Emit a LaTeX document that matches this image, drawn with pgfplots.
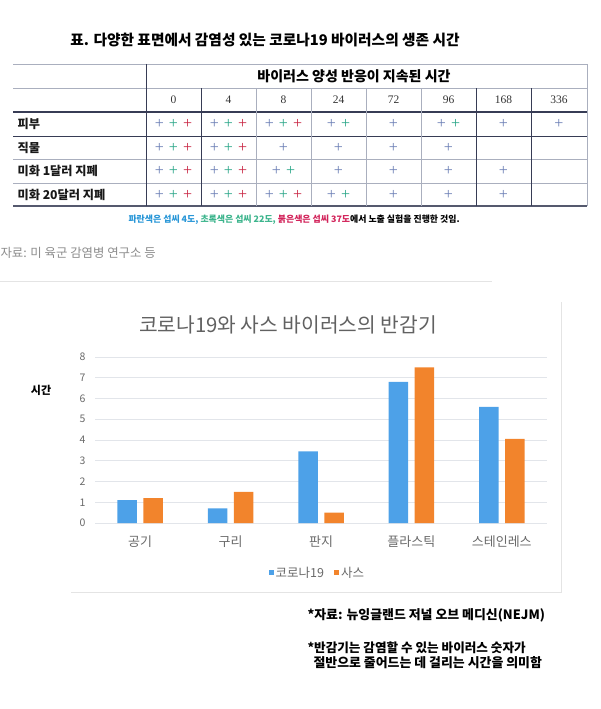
\documentclass[border=0pt]{standalone}
\usepackage{fontspec}
\setmainfont{Noto Sans CJK KR}
\newfontfamily\serif{Liberation Serif}
\usepackage{pgfplots}
\pgfplotsset{compat=1.18}

\definecolor{cblue}{RGB}{77,161,232}
\definecolor{corange}{RGB}{242,132,44}
\definecolor{pblue}{RGB}{105,125,180}
\definecolor{pgreen}{RGB}{40,165,135}
\definecolor{pred}{RGB}{200,35,65}
\definecolor{fblue}{RGB}{40,150,215}
\definecolor{fgreen}{RGB}{60,180,140}
\definecolor{fred}{RGB}{210,35,90}
\definecolor{gridc}{RGB}{226,229,234}
\definecolor{tickc}{RGB}{105,105,105}
\definecolor{tline}{RGB}{55,60,85}
\definecolor{tgray}{RGB}{170,175,190}
\definecolor{boxc}{RGB}{228,228,228}

\newcommand{\pB}{\textcolor{pblue}{+}}
\newcommand{\pG}{\textcolor{pgreen}{+}}
\newcommand{\pR}{\textcolor{pred}{+}}
\newcommand{\s}{\hspace{5pt}}
\newcommand{\fs}[1]{\fontsize{#1}{#1}\selectfont}

\begin{document}
\begin{tikzpicture}
\path[use as bounding box] (0pt,0pt) rectangle (600pt,-709pt);

\begin{scope}[x=1pt,y=-1pt]
% table
\node[font=\bfseries\fs{14.7}] at (265,40) {표. 다양한 표면에서 감염성 있는 코로나19 바이러스의 생존 시간};
\draw[tgray, line width=0.8pt] (13,64) -- (587,64);
\draw[tgray, line width=0.6pt] (13,88) -- (587,88);
\draw[tline, line width=1.1pt] (13,112) -- (587,112);
\draw[tline, line width=0.9pt] (13,136) -- (587,136);
\draw[tgray, line width=0.6pt] (13,159) -- (587,159);
\draw[tgray, line width=0.6pt] (13,183) -- (587,183);
\draw[tline!85, line width=1.1pt] (13,206) -- (587,206);
\draw[tline, line width=0.9pt] (146,64) -- (146,206);
\foreach \x in {201,476,531} \draw[tline, line width=0.8pt] (\x,88) -- (\x,206);
\foreach \x in {256,311,366,421} \draw[tgray, line width=0.7pt] (\x,88) -- (\x,206);
\draw[tgray, line width=0.7pt] (587,64) -- (587,206);

\node[font=\bfseries\fs{14}] at (354,76) {바이러스 양성 반응이 지속된 시간};
\foreach \x/\t in {173.5/0,228.5/4,283.5/8,338.5/24,393.5/72,448.5/96,503.5/168,559/336}
  \node[font=\serif\fs{11.5}, text=black!80] at (\x,100) {\t};

\foreach \y/\t in {124/피부,148/직물,171/미화 1달러 지폐,194.5/미화 20달러 지폐}
  \node[anchor=west, font=\bfseries\fs{12.2}, text=black!90] at (14,\y) {\t};

\begin{scope}[every node/.style={font=\serif\fs{16}}]
\foreach \x/\c in {173.5/{\pB\s\pG\s\pR},228.5/{\pB\s\pG\s\pR},283.5/{\pB\s\pG\s\pR},
  338.5/{\pB\s\pG},393.5/{\pB},448.5/{\pB\s\pG},503.5/{\pB},559/{\pB}}
  \node at (\x,124) {\c};
\foreach \x/\c in {173.5/{\pB\s\pG\s\pR},228.5/{\pB\s\pG\s\pR},283.5/{\pB},
  338.5/{\pB},393.5/{\pB},448.5/{\pB}}
  \node at (\x,147.5) {\c};
\foreach \x/\c in {173.5/{\pB\s\pG\s\pR},228.5/{\pB\s\pG\s\pR},283.5/{\pB\s\pG},
  338.5/{\pB},393.5/{\pB},448.5/{\pB},503.5/{\pB}}
  \node at (\x,171) {\c};
\foreach \x/\c in {173.5/{\pB\s\pG\s\pR},228.5/{\pB\s\pG\s\pR},283.5/{\pB\s\pG\s\pR},
  338.5/{\pB\s\pG},393.5/{\pB},448.5/{\pB},503.5/{\pB}}
  \node at (\x,194.5) {\c};
\end{scope}

\node[anchor=west, font=\bfseries\fs{8.9}] at (125,220)
  {\textcolor{fblue}{파란색은 섭씨 4도,} \textcolor{fgreen}{초록색은 섭씨 22도,} \textcolor{fred}{붉은색은 섭씨 37도}에서 노출 실험을 진행한 것임.};
\node[anchor=west, text=black!45, font=\fs{12.4}] at (-3,253) {자료: 미 육군 감염병 연구소 등};

% chart frame
\draw[boxc, line width=0.7pt] (0,281) -- (492,281);
\draw[boxc, line width=0.7pt] (561,302) -- (561,592) -- (71,592);
\node[text=black!62, font=\fs{20.3}] at (288,325) {코로나19와 사스 바이러스의 반감기};
\node[font=\bfseries\fs{11}] at (41,390) {시간};

% notes
\node[anchor=west, font=\bfseries\fs{12.9}] at (304,615) {*자료: 뉴잉글랜드 저널 오브 메디신(NEJM)};
\node[anchor=west, font=\bfseries\fs{12.6}] at (304,648) {*반감기는 감염할 수 있는 바이러스 숫자가};
\node[anchor=west, font=\bfseries\fs{12.9}] at (310,663) {절반으로 줄어드는 데 걸리는 시간을 의미함};
\end{scope}

\begin{axis}[
  at={(95pt,-523pt)}, anchor=south west,
  scale only axis, width=452pt, height=166pt,
  ybar=6.5pt, bar width=19.5pt,
  xmin=-0.5, xmax=4.5, ymin=0, ymax=8,
  xtick={0,1,2,3,4},
  xticklabels={공기,구리,판지,플라스틱,스테인레스},
  ytick={0,1,...,8},
  axis line style={draw=none},
  tick style={draw=none},
  ymajorgrids,
  grid style={gridc, line width=0.8pt},
  /pgf/number format/assume math mode=true,
  yticklabel style={font=\fs{10.5}, text=tickc, xshift=-6pt},
  xticklabel style={font=\fs{13}, text=tickc, yshift=-5pt},
  legend style={at={(0.492,-0.30)}, anchor=center, draw=none, fill=none,
    font=\fs{12.5}, text=tickc, legend columns=2,
    /tikz/every even column/.append style={column sep=8pt}},
  legend image code/.code={\fill[#1] (0pt,-2.5pt) rectangle (5pt,2.5pt);},
]
\addplot[fill=cblue, draw=none] coordinates {(0,1.1) (1,0.7) (2,3.45) (3,6.8) (4,5.6)};
\addplot[fill=corange, draw=none] coordinates {(0,1.2) (1,1.5) (2,0.5) (3,7.5) (4,4.05)};
\legend{코로나19,사스}
\end{axis}
\end{tikzpicture}
\end{document}
